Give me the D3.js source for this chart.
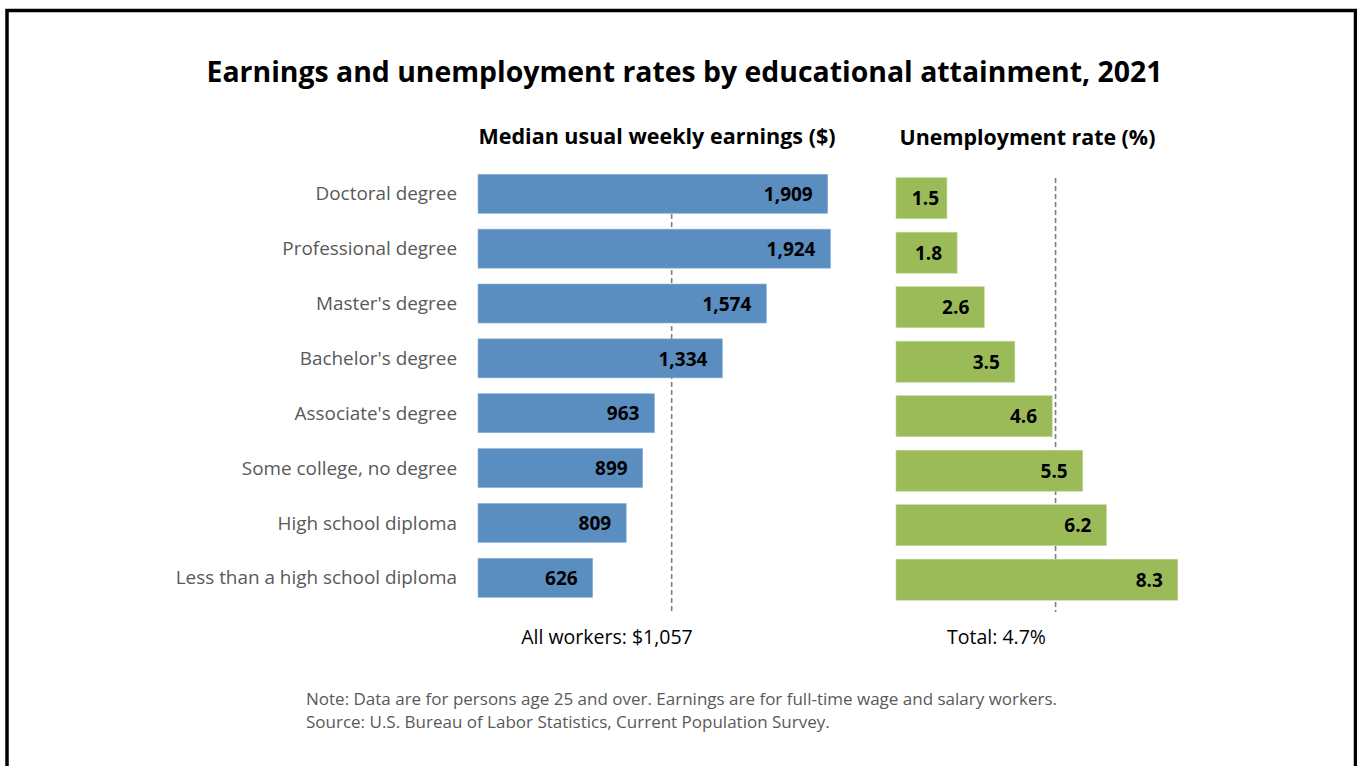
<!DOCTYPE html>
<html>
<head>
<meta charset="utf-8">
<script src="https://cdn.jsdelivr.net/npm/d3@7"></script>
<style>
  html, body { margin: 0; padding: 0; background: #fff; }
  svg { display: block; font-family: "Open Sans", Lato, sans-serif; }
</style>
</head>
<body>
<script>
const SVG_DIM = {W: 1357, H: 766};

// data
const categories = [
  'Doctoral degree',
  'Professional degree',
  "Master's degree",
  "Bachelor's degree",
  "Associate's degree",
  'Some college, no degree',
  'High school diploma',
  'Less than a high school diploma'
];
const earnings = [1909, 1924, 1574, 1334, 963, 899, 809, 626];
const unemployment = [1.5, 1.8, 2.6, 3.5, 4.6, 5.5, 6.2, 8.3];
const allWorkersEarnings = 1057;
const totalUnemployment = 4.7;

const TITLE = 'Earnings and unemployment rates by educational attainment, 2021';
const EARN_TITLE = 'Median usual weekly earnings ($)';
const UNEMP_TITLE = 'Unemployment rate (%)';
const NOTES = [
  'Note: Data are for persons age 25 and over. Earnings are for full-time wage and salary workers.',
  'Source: U.S. Bureau of Labor Statistics, Current Population Survey.'
];

const COLORS = {blue: '#5b8ec0', green: '#9bbb59', label: '#595959', dash: '#7f7f7f'};

const svg = d3.select('body')
  .append('svg')
  .attr('width', SVG_DIM.W)
  .attr('height', SVG_DIM.H);

// frame
svg.append('rect').attr('x', 0).attr('y', 0).attr('width', SVG_DIM.W).attr('height', SVG_DIM.H).attr('fill', '#fff');
svg.append('path')
  .attr('d', `M7,${SVG_DIM.H} V10.5 H1355.5 V${SVG_DIM.H}`)
  .attr('fill', 'none')
  .attr('stroke', '#000')
  .attr('stroke-width', 3.5);

// scales
const xE = d3.scaleLinear().domain([0, 2000]).range([478, 478 + 366.4]);
const xU = d3.scaleLinear().domain([0, 10]).range([896, 896 + 339.5]);

const yE = d3.scaleBand().domain(categories).range([174.3, 597.3]).paddingInner(0.289).paddingOuter(0);
const yU = d3.scaleBand().domain(categories).range([177.7, 600.2]).paddingInner(0.2477).paddingOuter(0);

const rows = categories.map((c, i) => ({cat: c, earn: earnings[i], unemp: unemployment[i]}));

// title
svg.append('text')
  .attr('x', 684.5)
  .attr('y', 82)
  .attr('text-anchor', 'middle')
  .style('font-size', '28.4px')
  .style('font-weight', 'bold')
  .attr('fill', '#000')
  .text(TITLE);

// panel titles
svg.append('text')
  .attr('x', 657)
  .attr('y', 144)
  .attr('text-anchor', 'middle')
  .style('font-size', '21.5px')
  .style('font-weight', 'bold')
  .text(EARN_TITLE);

svg.append('text')
  .attr('x', 1027.5)
  .attr('y', 145)
  .attr('text-anchor', 'middle')
  .style('font-size', '21.4px')
  .style('font-weight', 'bold')
  .text(UNEMP_TITLE);

// reference lines (behind bars)
svg.append('line')
  .attr('x1', xE(allWorkersEarnings)).attr('x2', xE(allWorkersEarnings))
  .attr('y1', 174).attr('y2', 612)
  .attr('stroke', COLORS.dash).attr('stroke-width', 1.6).attr('stroke-dasharray', '5,3');

svg.append('line')
  .attr('x1', xU(totalUnemployment)).attr('x2', xU(totalUnemployment))
  .attr('y1', 178).attr('y2', 612)
  .attr('stroke', COLORS.dash).attr('stroke-width', 1.6).attr('stroke-dasharray', '5,3');

// category labels
svg.selectAll('.cat-label')
  .data(rows)
  .enter()
  .append('text')
  .attr('class', 'cat-label')
  .attr('x', 457)
  .attr('y', d => yE(d.cat) + yE.bandwidth() / 2)
  .attr('dy', '.35em')
  .attr('text-anchor', 'end')
  .style('font-size', '18.9px')
  .attr('fill', COLORS.label)
  .text(d => d.cat);

// earnings bars
svg.selectAll('.bar-earn')
  .data(rows)
  .enter()
  .append('rect')
  .attr('class', 'bar-earn')
  .attr('x', xE(0))
  .attr('y', d => yE(d.cat))
  .attr('width', d => xE(d.earn) - xE(0))
  .attr('height', yE.bandwidth())
  .attr('fill', COLORS.blue)
  .attr('stroke', '#8fb3d6')
  .attr('stroke-width', 0.6);

svg.selectAll('.val-earn')
  .data(rows)
  .enter()
  .append('text')
  .attr('class', 'val-earn')
  .attr('x', d => xE(d.earn) - 15)
  .attr('y', d => yE(d.cat) + yE.bandwidth() / 2)
  .attr('dy', '.38em')
  .attr('text-anchor', 'end')
  .style('font-size', '19px')
  .style('font-weight', 'bold')
  .text(d => d3.format(',')(d.earn));

// unemployment bars
svg.selectAll('.bar-unemp')
  .data(rows)
  .enter()
  .append('rect')
  .attr('class', 'bar-unemp')
  .attr('x', xU(0))
  .attr('y', d => yU(d.cat))
  .attr('width', d => xU(d.unemp) - xU(0))
  .attr('height', yU.bandwidth())
  .attr('fill', COLORS.green)
  .attr('stroke', '#c2d69b')
  .attr('stroke-width', 0.6);

svg.selectAll('.val-unemp')
  .data(rows)
  .enter()
  .append('text')
  .attr('class', 'val-unemp')
  .attr('x', d => Math.max(xU(d.unemp) - 15, xU(0) + 43))
  .attr('y', d => yU(d.cat) + yU.bandwidth() / 2)
  .attr('dy', '.38em')
  .attr('text-anchor', 'end')
  .style('font-size', '19px')
  .style('font-weight', 'bold')
  .text(d => d3.format('.1f')(d.unemp));

// reference labels
svg.append('text')
  .attr('x', 607)
  .attr('y', 644)
  .attr('text-anchor', 'middle')
  .style('font-size', '19.5px')
  .text('All workers: $' + d3.format(',')(allWorkersEarnings));

svg.append('text')
  .attr('x', 996.5)
  .attr('y', 644)
  .attr('text-anchor', 'middle')
  .style('font-size', '19.5px')
  .text('Total: ' + totalUnemployment + '%');

// notes
svg.selectAll('.note')
  .data(NOTES)
  .enter()
  .append('text')
  .attr('class', 'note')
  .attr('x', 306)
  .attr('y', (d, i) => 705 + i * 23)
  .style('font-size', '17px')
  .attr('fill', COLORS.label)
  .text(d => d);
</script>
</body>
</html>
